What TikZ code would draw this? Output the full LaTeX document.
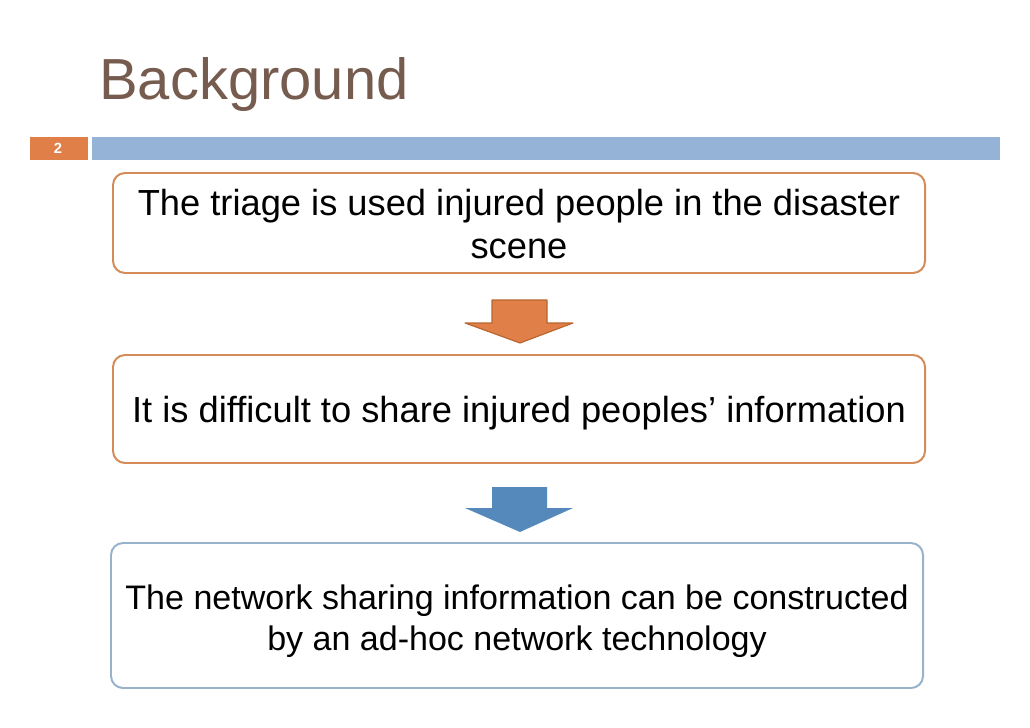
\documentclass[tikz,border=0pt]{standalone}
\usepackage{fontspec}
\setmainfont{Liberation Sans}
\definecolor{titlec}{HTML}{765B4F}
\definecolor{orfill}{HTML}{E07F48}
\definecolor{ordark}{HTML}{B8652F}
\definecolor{orbox}{HTML}{D48B58}
\definecolor{barblue}{HTML}{95B3D7}
\definecolor{arblue}{HTML}{5588BB}
\definecolor{bluebox}{HTML}{98B2CC}
\begin{document}
\begin{tikzpicture}[x=0.025cm,y=-0.025cm,
  boxstyle/.style={draw, line width=1.4pt, rounded corners=0.3cm, fill=white},
  txt/.style={font=\fontsize{25.8}{30}\selectfont, align=center, inner sep=0pt},
  txtb/.style={font=\fontsize{24.2}{29}\selectfont, align=center, inner sep=0pt}]
\useasboundingbox (0,0) rectangle (1030,728);
\node[anchor=base west, text=titlec, inner sep=0pt, font=\fontsize{41.2}{46}\selectfont] (title) at (99,100) {Background};
\fill[orfill] (30,137) rectangle (88,160);
\node[text=white, font=\fontsize{10.5}{11}\selectfont\bfseries] (num) at (58,148.5) {2};
\fill[barblue] (92,137) rectangle (1000,160);
% boxes
\draw[boxstyle, draw=orbox] (113,173) rectangle (925,273);
\node[txt] (t1) at (519,224) {The triage is used injured people in the disaster\\scene};
\draw[boxstyle, draw=orbox] (113,355) rectangle (925,463);
\node[txt] (t2) at (519,413) {It is difficult to share injured peoples’ information};
\draw[boxstyle, draw=bluebox] (111,543) rectangle (923,688);
\node[txtb] (t3) at (517,621) {The network sharing information can be constructed\\by an ad-hoc network technology};
% arrows
\draw[fill=orfill, draw=ordark, line width=0.8pt, line join=round] (492,300) -- (547,300) -- (547,323) -- (573,323) -- (520,343) -- (465,323) -- (492,323) -- cycle;
\fill[arblue, line join=round] (492,487) -- (547,487) -- (547,508) -- (573,508) -- (520,532) -- (465,508) -- (492,508) -- cycle;
\end{tikzpicture}
\end{document}
